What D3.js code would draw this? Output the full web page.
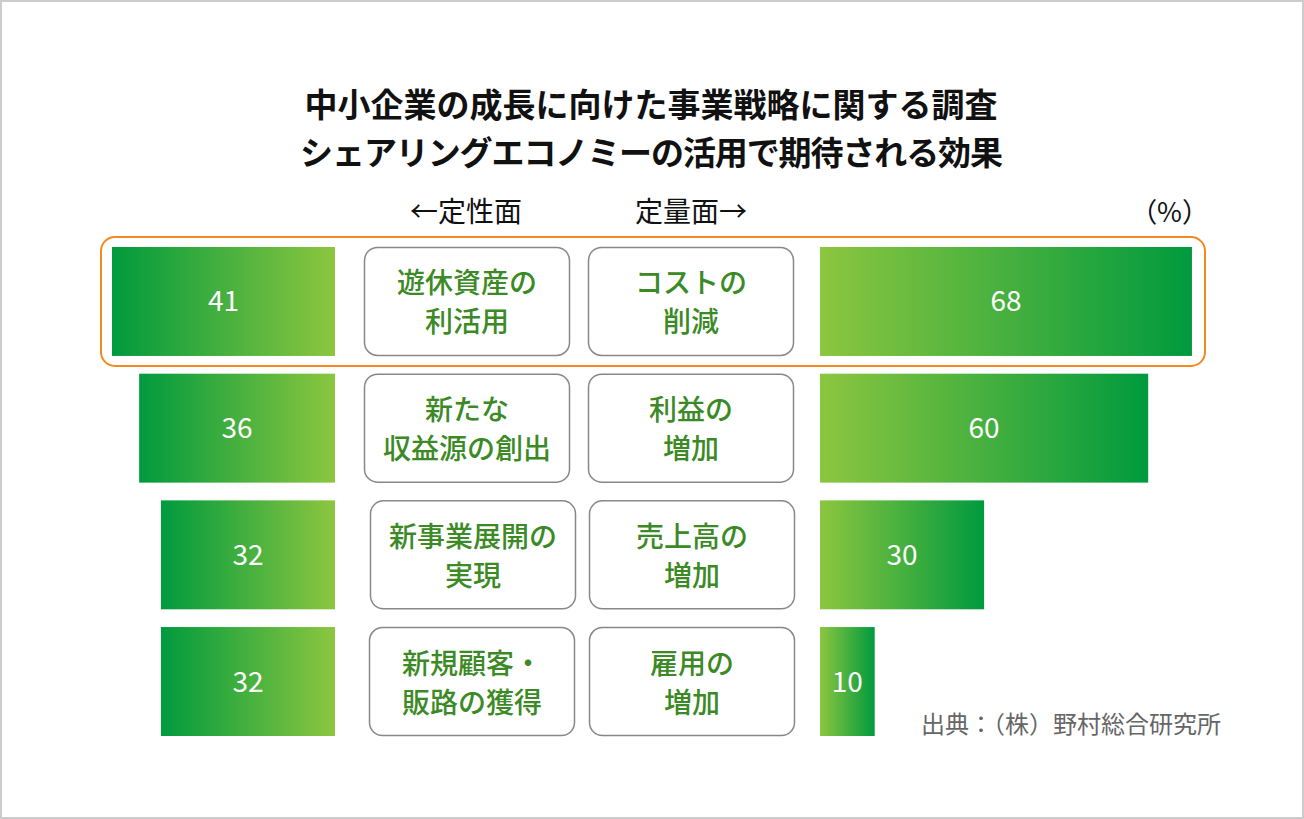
<!DOCTYPE html>
<html><head><meta charset="utf-8">
<script src="https://cdn.jsdelivr.net/npm/d3@7"></script>
<style>
html,body{margin:0;padding:0;background:#fff;}
svg{display:block;font-family:"Noto Sans CJK JP","Noto Sans",sans-serif;}
</style></head>
<body>
<svg id="chart" width="1304" height="819"></svg>
<script>
const titleLines = ["中小企業の成長に向けた事業戦略に関する調査", "シェアリングエコノミーの活用で期待される効果"];
const qualLabels = [["遊休資産の","利活用"],["新たな","収益源の創出"],["新事業展開の","実現"],["新規顧客・","販路の獲得"]];
const qualValues = [41, 36, 32, 32];
const quantLabels = [["コストの","削減"],["利益の","増加"],["売上高の","増加"],["雇用の","増加"]];
const quantValues = [68, 60, 30, 10];
const rows = [0,1,2,3];
const headerLeft = "←定性面";
const headerRight = "定量面→";
const unitLabel = "（%）";
const sourceText = "出典：（株）野村総合研究所";

const svg = d3.select("#chart");
const W = 1304, H = 819;

svg.append("rect").attr("x",1).attr("y",1).attr("width",W-2).attr("height",H-2)
  .attr("fill","#fff").attr("stroke","#cccccc").attr("stroke-width",2);

const defs = svg.append("defs");
function grad(id, c0, c1){
  const g = defs.append("linearGradient").attr("id",id).attr("x1","0%").attr("x2","100%").attr("y1","0%").attr("y2","0%");
  g.append("stop").attr("offset","0%").attr("stop-color",c0);
  g.append("stop").attr("offset","100%").attr("stop-color",c1);
}
grad("gLeft","#009a3e","#8cc63f");
grad("gRight","#8cc63f","#009a3e");

// title
svg.append("g").selectAll("text").data(titleLines).join("text")
  .attr("x",651).attr("y",(d,i)=>117+i*48)
  .attr("text-anchor","middle").attr("font-size",33).attr("font-weight",700).attr("fill","#111")
  .attr("letter-spacing",(d,i)=>i===1?-1.1:0)
  .text(d=>d);

const y = d3.scaleBand().domain(rows).range([247,736]).paddingInner(0.14);
const xL = d3.scaleLinear().domain([0,100]).range([335, 335-544]);
const xR = d3.scaleLinear().domain([0,100]).range([820, 820+547]);

// headers
svg.append("text").attr("x",466).attr("y",222).attr("text-anchor","middle").attr("font-size",28).attr("fill","#111").text(headerLeft);
svg.append("text").attr("x",691).attr("y",222).attr("text-anchor","middle").attr("font-size",28).attr("fill","#111").text(headerRight);
svg.append("text").attr("x",1209).attr("y",222).attr("text-anchor","end").attr("font-size",27).attr("fill","#111").text(unitLabel);

// highlight
svg.append("rect").attr("x",101).attr("y",y(0)-10).attr("width",1104).attr("height",y.bandwidth()+20)
  .attr("rx",14).attr("fill","none").attr("stroke","#f5881f").attr("stroke-width",2);

// left bars
svg.append("g").selectAll("rect").data(rows).join("rect")
  .attr("x",i=>xL(qualValues[i])).attr("y",i=>y(i))
  .attr("width",i=>xL(0)-xL(qualValues[i])).attr("height",y.bandwidth())
  .attr("fill","url(#gLeft)");
svg.append("g").selectAll("text").data(rows).join("text")
  .attr("x",i=>(xL(0)+xL(qualValues[i]))/2).attr("y",i=>y(i)+y.bandwidth()/2+10)
  .attr("text-anchor","middle").attr("font-size",28).attr("fill","#fff")
  .text(i=>qualValues[i]);

// right bars
svg.append("g").selectAll("rect").data(rows).join("rect")
  .attr("x",xR(0)).attr("y",i=>y(i))
  .attr("width",i=>xR(quantValues[i])-xR(0)).attr("height",y.bandwidth())
  .attr("fill","url(#gRight)");
svg.append("g").selectAll("text").data(rows).join("text")
  .attr("x",i=>(xR(0)+xR(quantValues[i]))/2).attr("y",i=>y(i)+y.bandwidth()/2+10)
  .attr("text-anchor","middle").attr("font-size",28).attr("fill","#fff")
  .text(i=>quantValues[i]);

// label boxes (slight per-row horizontal shift as in the original layout)
const leftBoxShift = [0,0,6,5];
const rightBoxShift = [0,0,1,1];
function boxes(x0, shift, labels){
  const g = svg.append("g");
  const gg = g.selectAll("g").data(rows).join("g").attr("transform",i=>`translate(${x0+shift[i]},${y(i)})`);
  gg.append("rect").attr("x",0.5).attr("y",0.5).attr("width",205).attr("height",y.bandwidth()-1)
    .attr("rx",13).attr("fill","#fff").attr("stroke","#888").attr("stroke-width",1.5);
  gg.each(function(i){
    d3.select(this).selectAll("text").data(labels[i]).join("text")
      .attr("x",103).attr("y",(d,k)=>y.bandwidth()/2 - 8 + k*39)
      .attr("text-anchor","middle").attr("font-size",28).attr("font-weight",500).attr("fill","#3b8a25")
      .text(d=>d);
  });
}
boxes(364, leftBoxShift, qualLabels);
boxes(588, rightBoxShift, quantLabels);

// source
svg.append("text").attr("x",1221).attr("y",733).attr("text-anchor","end").attr("font-size",24).attr("fill","#666").text(sourceText);
</script>
</body></html>
